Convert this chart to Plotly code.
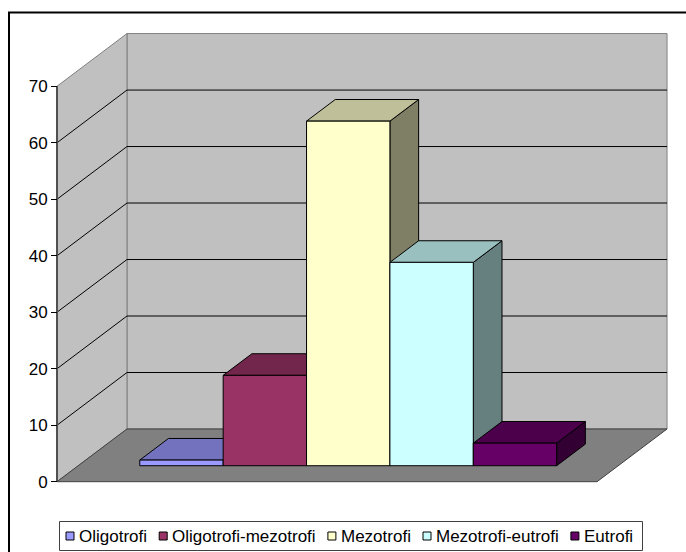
import plotly.graph_objects as go

# ---- data -------------------------------------------------------------
categories = ["Oligotrofi", "Oligotrofi-mezotrofi", "Mezotrofi",
              "Mezotrofi-eutrofi", "Eutrofi"]
values = [1, 16, 61, 36, 4]
bar_colors = ["#9999FF", "#993366", "#FFFFCC", "#CCFFFF", "#660066"]
y_ticks = [0, 10, 20, 30, 40, 50, 60, 70]

FONT = "Liberation Sans, Arial, sans-serif"

# ---- geometry of the oblique 3D box (axis units) -----------------------
W, H = 686, 552
M_L, M_R, M_T, M_B = 51, 13, 28, 64
PX = 5.649                    # pixels per value unit (both axes)
ORIGIN_X, ORIGIN_Y = 57, 481.7  # pixel position of the front-left floor corner

Y_MAX = max(y_ticks)
DX, DY = 12.39, 9.33          # depth vector of the box
FLOOR_W = 95.6                # width of the front floor edge
Z0, ZD = 0.303, 0.41          # bar front depth and bar depth, fraction of box depth
BAR_W = 14.76
LEFT = (FLOOR_W - len(values) * BAR_W) / 2

x_range = [(M_L - ORIGIN_X) / PX, (W - M_R - ORIGIN_X) / PX]
y_range = [(ORIGIN_Y - (H - M_B)) / PX, (ORIGIN_Y - M_T) / PX]


def shade(hex_color, f):
    h = hex_color.lstrip("#")
    r, g, b = (int(h[i:i + 2], 16) for i in (0, 2, 4))
    return "#%02X%02X%02X" % (int(r * f), int(g * f), int(b * f))


def poly(xs, ys, fill, line, width=1):
    return go.Scatter(x=xs + [xs[0]], y=ys + [ys[0]], mode="lines", fill="toself",
                      fillcolor=fill, line=dict(color=line, width=width),
                      hoverinfo="skip", showlegend=False)


fig = go.Figure()

# walls and floor
fig.add_trace(poly([DX, FLOOR_W + DX, FLOOR_W + DX, DX],
                   [DY, DY, Y_MAX + DY, Y_MAX + DY], "#C0C0C0", "#808080"))
fig.add_trace(poly([0, DX, DX, 0], [0, DY, Y_MAX + DY, Y_MAX], "#C0C0C0", "#808080"))
fig.add_trace(poly([0, FLOOR_W, FLOOR_W + DX, DX], [0, 0, DY, DY], "#808080", "#404040"))

# gridlines on the back and side walls
gx, gy = [], []
for v in y_ticks[1:-1]:
    gx += [0, DX, FLOOR_W + DX, None]
    gy += [v, v + DY, v + DY, None]
fig.add_trace(go.Scatter(x=gx, y=gy, mode="lines", line=dict(color="#000000", width=1),
                         hoverinfo="skip", showlegend=False))

# front edge of the side wall (value axis)
fig.add_trace(go.Scatter(x=[0, 0], y=[0, Y_MAX], mode="lines",
                         line=dict(color="#505050", width=2),
                         hoverinfo="skip", showlegend=False))

# bars: side, top, front
ox, oy = Z0 * DX, Z0 * DY
ddx, ddy = ZD * DX, ZD * DY
for i, (v, c) in enumerate(zip(values, bar_colors)):
    x0 = LEFT + i * BAR_W + ox
    x1 = x0 + BAR_W
    yb, yt = oy, oy + v
    fig.add_trace(poly([x1, x1 + ddx, x1 + ddx, x1], [yb, yb + ddy, yt + ddy, yt],
                       shade(c, 0.5), "#000000"))
    fig.add_trace(poly([x0, x1, x1 + ddx, x0 + ddx], [yt, yt, yt + ddy, yt + ddy],
                       shade(c, 0.75), "#000000"))
    fig.add_trace(poly([x0, x1, x1, x0], [yb, yb, yt, yt], c, "#000000"))


# ---- legend and chart border (paper coordinates) ----------------------
def px_x(p):
    return (p - M_L) / (W - M_L - M_R)


def px_y(p):
    return (H - M_B - p) / (H - M_T - M_B)


shapes = [
    dict(type="rect", xref="paper", yref="paper", x0=px_x(9), x1=px_x(W + 10),
         y0=px_y(H + 10), y1=px_y(12.5), line=dict(color="#000000", width=2)),
    dict(type="rect", xref="paper", yref="paper", x0=px_x(59.5), x1=px_x(642.5),
         y0=px_y(550.5), y1=px_y(521.5), line=dict(color="#404040", width=1)),
]
annotations = []
legend_x = [66, 159.2, 327.9, 423, 570.9]
LEG_Y = 536
for lx, name, c in zip(legend_x, categories, bar_colors):
    shapes.append(dict(type="rect", xref="paper", yref="paper",
                       x0=px_x(lx), x1=px_x(lx + 8), y0=px_y(LEG_Y + 4), y1=px_y(LEG_Y - 4),
                       fillcolor=c, line=dict(color="#000000", width=1)))
    annotations.append(dict(xref="paper", yref="paper", x=px_x(lx + 11), y=px_y(LEG_Y),
                            xanchor="left", yanchor="middle", text=name, showarrow=False,
                            font=dict(family=FONT, size=17, color="#000000")))

fig.update_layout(
    width=W, height=H,
    margin=dict(l=M_L, r=M_R, t=M_T, b=M_B, pad=0),
    paper_bgcolor="#FFFFFF", plot_bgcolor="#FFFFFF",
    showlegend=False,
    xaxis=dict(range=x_range, visible=False, showgrid=False, zeroline=False),
    yaxis=dict(range=y_range, showgrid=False, zeroline=False, showline=False,
               tickvals=y_ticks, ticktext=[str(t) for t in y_ticks],
               ticks="outside", ticklen=6, tickwidth=1, tickcolor="#000000",
               anchor="free", position=(0 - x_range[0]) / (x_range[1] - x_range[0]),
               tickfont=dict(family=FONT, size=17, color="#000000")),
    shapes=shapes, annotations=annotations,
)

fig.write_html("out.html")
